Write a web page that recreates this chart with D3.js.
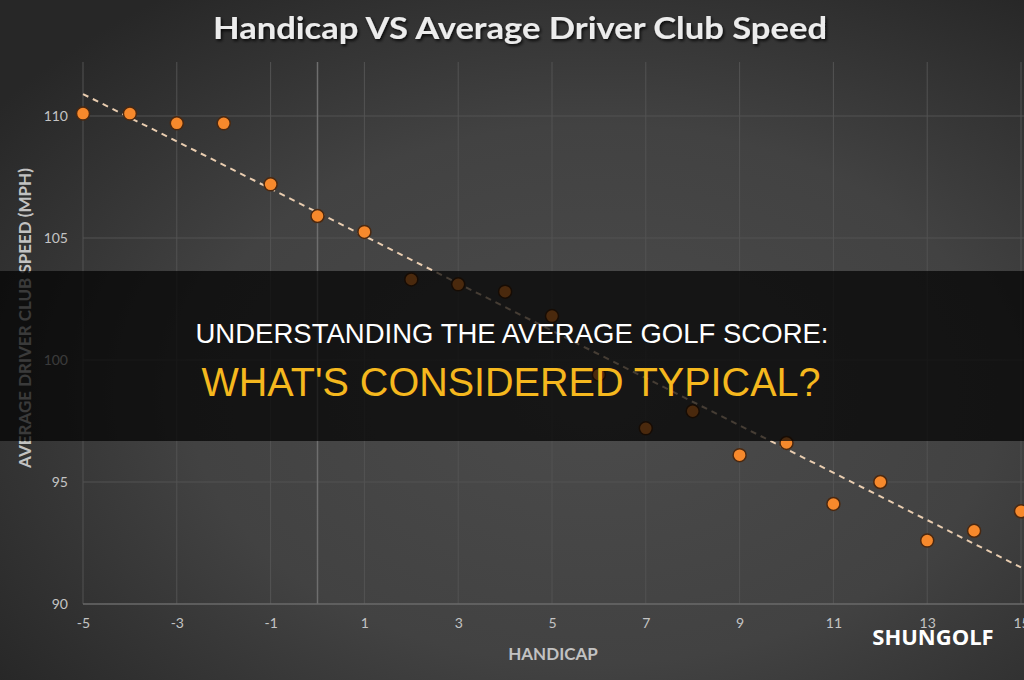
<!DOCTYPE html>
<html>
<head>
<meta charset="utf-8">
<script src="https://cdn.jsdelivr.net/npm/d3@7"></script>
<style>
  html, body { margin: 0; padding: 0; background: #333; }
  svg { display: block; }
</style>
</head>
<body>
<svg id="chart"></svg>
<script>
// chart values
const handicaps = [-5, -4, -3, -2, -1, 0, 1, 2, 3, 4, 5, 6, 7, 8, 9, 10, 11, 12, 13, 14, 15]
const clubSpeeds = [110.1, 110.1, 109.7, 109.7, 107.2, 105.9, 105.25, 103.3, 103.1, 102.8, 101.8,
                    99.4, 97.2, 97.9, 96.1, 96.6, 94.1, 95.0, 92.6, 93.0, 93.8]
const trendHandicap = [-5, 15]
const trendSpeed = [110.9, 91.5]
const xTicks = [-5, -3, -1, 1, 3, 5, 7, 9, 11, 13, 15]
const yTicks = [90, 95, 100, 105, 110]

const titleText = "Handicap VS Average Driver Club Speed"
const xLabel = "HANDICAP"
const yLabel = "AVERAGE DRIVER CLUB SPEED (MPH)"
const bannerLine1 = "UNDERSTANDING THE AVERAGE GOLF SCORE:"
const bannerLine2 = "WHAT'S CONSIDERED TYPICAL?"
const brand = "SHUNGOLF"

;(function() {
    const width = 1024
    const height = 680

    var svg = d3.select("#chart")
        .attr("width", width)
        .attr("height", height)

    var defs = svg.append("defs")
    var bg = defs.append("radialGradient")
        .attr("id", "bg")
        .attr("cx", "58%").attr("cy", "58%").attr("r", "72%")
    bg.append("stop").attr("offset", "0%").attr("stop-color", "#4b4b4b")
    bg.append("stop").attr("offset", "55%").attr("stop-color", "#424242")
    bg.append("stop").attr("offset", "100%").attr("stop-color", "#272727")

    var shadow = defs.append("filter").attr("id", "shadow")
        .attr("x", "-10%").attr("y", "-30%").attr("width", "120%").attr("height", "160%")
    shadow.append("feDropShadow")
        .attr("dx", 1.5).attr("dy", 2).attr("stdDeviation", 1.5)
        .attr("flood-color", "#000").attr("flood-opacity", 0.8)

    svg.append("rect")
        .attr("width", width).attr("height", height)
        .attr("fill", "url(#bg)")

    // scales (plot runs past the right edge, like the cropped original)
    var x = d3.scaleLinear().domain([-5, 15]).range([83, 1021])
    var y = d3.scaleLinear().domain([90, 110]).range([604, 116])
    const plotTop = 62

    // grid
    var grid = svg.append("g")
    grid.selectAll(".vgrid")
        .data(xTicks)
        .enter().append("line")
        .attr("x1", (d) => x(d)).attr("x2", (d) => x(d))
        .attr("y1", plotTop).attr("y2", y(90))
        .attr("stroke", "#535353").attr("stroke-width", 1)
    grid.selectAll(".hgrid")
        .data(yTicks.slice(1))
        .enter().append("line")
        .attr("x1", x(-5)).attr("x2", width)
        .attr("y1", (d) => y(d)).attr("y2", (d) => y(d))
        .attr("stroke", "#535353").attr("stroke-width", 1)

    // axis lines: zero handicap line and the 90 baseline
    grid.append("line")
        .attr("x1", x(0)).attr("x2", x(0))
        .attr("y1", plotTop).attr("y2", y(90))
        .attr("stroke", "#6e6e6e").attr("stroke-width", 1.5)
    grid.append("line")
        .attr("x1", x(-5)).attr("x2", width)
        .attr("y1", y(90)).attr("y2", y(90))
        .attr("stroke", "#6a6a6a").attr("stroke-width", 1.5)

    // tick labels (plain hyphen for negatives, as in the original)
    var xAxis = d3.axisBottom(x).tickValues(xTicks).tickSize(0).tickPadding(0)
        .tickFormat((d) => String(d))
    var gx = svg.append("g")
        .attr("transform", "translate(0," + 618 + ")")
        .call(xAxis)
    gx.select(".domain").remove()
    gx.selectAll("text")
        .attr("fill", "#c4c4c4")
        .attr("font-family", "Lato, 'Open Sans', sans-serif")
        .attr("font-size", 14)

    var yAxis = d3.axisLeft(y).tickValues(yTicks).tickSize(0).tickPadding(0)
        .tickFormat((d) => String(d))
    var gy = svg.append("g")
        .attr("transform", "translate(" + 68 + ",0)")
        .call(yAxis)
    gy.select(".domain").remove()
    gy.selectAll("text")
        .attr("fill", "#c4c4c4")
        .attr("font-family", "Lato, 'Open Sans', sans-serif")
        .attr("font-size", 14)

    // axis titles
    svg.append("text")
        .attr("x", 553).attr("y", 660)
        .attr("text-anchor", "middle")
        .attr("fill", "#c2c2c2")
        .attr("font-family", "Lato, 'Open Sans', sans-serif")
        .attr("font-weight", "bold")
        .attr("font-size", 17)
        .text(xLabel)
    svg.append("text")
        .attr("transform", "translate(31,318) rotate(-90)")
        .attr("text-anchor", "middle")
        .attr("fill", "#c2c2c2")
        .attr("font-family", "Lato, 'Open Sans', sans-serif")
        .attr("font-weight", "bold")
        .attr("font-size", 17)
        .text(yLabel)

    // trend line
    var trend = trendHandicap.map((h, i) => [h, trendSpeed[i]])
    svg.append("path")
        .datum(trend)
        .attr("d", d3.line().x((d) => x(d[0])).y((d) => y(d[1])))
        .attr("fill", "none")
        .attr("stroke", "#e9cdb0")
        .attr("stroke-width", 2)
        .attr("stroke-dasharray", "6,5")

    // points
    var points = handicaps.map((h, i) => ({ h: h, v: clubSpeeds[i] }))
    svg.append("g")
        .selectAll("circle")
        .data(points)
        .enter().append("circle")
        .attr("cx", (d) => x(d.h))
        .attr("cy", (d) => y(d.v))
        .attr("r", 6.5)
        .attr("fill", "#f7892c")
        .attr("stroke", "#4a2810")
        .attr("stroke-width", 1.5)

    // chart title
    svg.append("text")
        .attr("x", 520).attr("y", 39)
        .attr("text-anchor", "middle")
        .attr("fill", "#ececec")
        .attr("font-family", "Lato, 'Open Sans', sans-serif")
        .attr("font-weight", "bold")
        .attr("font-size", 31)
        .attr("textLength", 614)
        .attr("lengthAdjust", "spacingAndGlyphs")
        .attr("filter", "url(#shadow)")
        .text(titleText)

    // dark banner over the middle
    svg.append("rect")
        .attr("x", 0).attr("y", 271)
        .attr("width", width).attr("height", 170)
        .attr("fill", "#000").attr("opacity", 0.7)

    svg.append("text")
        .attr("x", 512).attr("y", 343)
        .attr("text-anchor", "middle")
        .attr("fill", "#ffffff")
        .attr("font-family", "'Liberation Sans', Arial, sans-serif")
        .attr("font-size", 28)
        .attr("textLength", 633)
        .attr("lengthAdjust", "spacingAndGlyphs")
        .text(bannerLine1)
    svg.append("text")
        .attr("x", 511).attr("y", 396)
        .attr("text-anchor", "middle")
        .attr("fill", "#f5b81e")
        .attr("font-family", "'Liberation Sans', Arial, sans-serif")
        .attr("font-size", 40)
        .attr("textLength", 619)
        .attr("lengthAdjust", "spacingAndGlyphs")
        .text(bannerLine2)

    // watermark
    svg.append("text")
        .attr("x", 933).attr("y", 645)
        .attr("text-anchor", "middle")
        .attr("fill", "#ffffff")
        .attr("font-family", "'Open Sans', sans-serif")
        .attr("font-weight", "bold")
        .attr("font-size", 22)
        .text(brand)
})();
</script>
</body>
</html>
